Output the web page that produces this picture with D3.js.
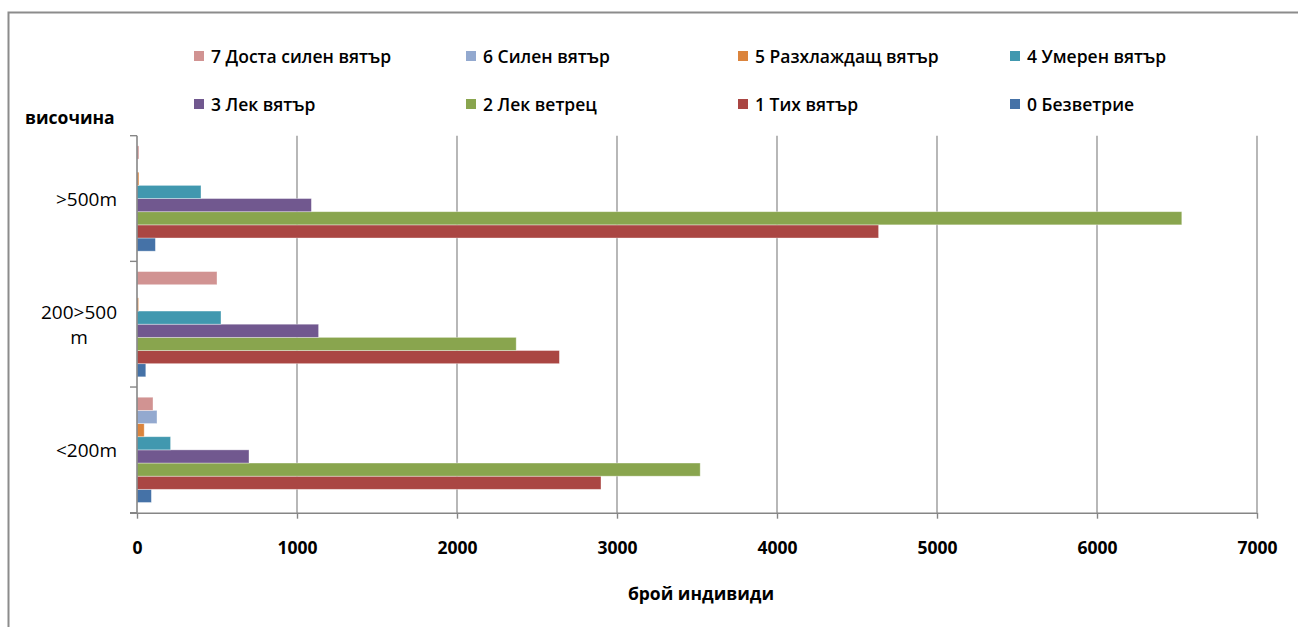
<!DOCTYPE html>
<html>
<head>
<meta charset="utf-8">
<script src="https://cdn.jsdelivr.net/npm/d3@7"></script>
<style>
  html, body { margin: 0; padding: 0; background: #fff; }
  svg { display: block; }
  text { font-family: "Open Sans", "Noto Sans", sans-serif; fill: #000; }
</style>
</head>
<body>
<svg id="chart" width="1298" height="627"></svg>
<script>
// Altitude classes, listed from the bottom of the chart upward
const categories = ["<200m", "200>500m", ">500m"];
const categoryLines = { "<200m": ["<200m"], "200>500m": ["200>500", "m"], ">500m": [">500m"] };

// Wind force classes (Beaufort), series 0 is drawn lowest in each group
const seriesNames = [
  "0 Безветрие", "1 Тих вятър", "2 Лек ветрец", "3 Лек вятър",
  "4 Умерен вятър", "5 Разхлаждащ вятър", "6 Силен вятър", "7 Доста силен вятър"
];

// Number of individuals per wind class, one array per altitude class
const valuesBelow200 = [90, 2900, 3520, 700, 210, 45, 125, 100];
const values200to500 = [55, 2640, 2370, 1135, 525, 10, 0, 500];
const valuesAbove500 = [115, 4635, 6530, 1090, 400, 12, 0, 12];

const xTicks = [0, 1000, 2000, 3000, 4000, 5000, 6000, 7000];
const yTitle = "височина";
const xTitle = "брой индивиди";

const colors = ["#4572A7", "#AA4643", "#89A54E", "#71588F", "#4198AF", "#DB843D", "#93A9CF", "#D19392"];

const table = {
  "<200m": valuesBelow200,
  "200>500m": values200to500,
  ">500m": valuesAbove500
};

const svg = d3.select("#chart");

// outer chart frame
svg.append("rect")
  .attr("x", 8.5).attr("y", 12.5)
  .attr("width", 1400).attr("height", 700)
  .attr("fill", "none").attr("stroke", "#8c8c8c").attr("stroke-width", 2);

const plot = { left: 137, right: 1257, top: 135.7, bottom: 512.7 };

const x = d3.scaleLinear().domain([0, 7000]).range([plot.left, plot.right]);
const y = d3.scaleBand().domain(categories.slice().reverse())
  .range([plot.top, plot.bottom]).paddingInner(0).paddingOuter(0);
const inner = d3.scaleBand().domain(d3.range(seriesNames.length).reverse())
  .range([0, y.bandwidth()]).paddingOuter(0.775).paddingInner(0);

// vertical gridlines
svg.append("g").selectAll("line")
  .data(xTicks.filter(d => d > 0))
  .join("line")
  .attr("x1", d => x(d)).attr("x2", d => x(d))
  .attr("y1", plot.top).attr("y2", plot.bottom)
  .attr("stroke", "#a6a6a6").attr("stroke-width", 1.6);

// bars
const groups = svg.append("g").selectAll("g")
  .data(categories)
  .join("g")
  .attr("transform", c => `translate(0,${y(c)})`);

groups.selectAll("rect")
  .data(c => table[c].map((v, i) => ({ v, i })))
  .join("rect")
  .attr("x", x(0))
  .attr("y", d => inner(d.i))
  .attr("width", d => x(d.v) - x(0))
  .attr("height", inner.bandwidth())
  .attr("fill", d => colors[d.i])
  .attr("stroke", d => d.v > 0 ? "rgba(255,255,255,0.45)" : "none")
  .attr("stroke-width", 0.8);

// x axis
const xAxis = svg.append("g")
  .attr("transform", `translate(0,${plot.bottom})`)
  .call(d3.axisBottom(x).tickValues(xTicks).tickSize(6).tickPadding(23).tickFormat(d3.format("d")));
xAxis.select(".domain").attr("stroke", "#868686").attr("stroke-width", 1.6)
  .attr("d", `M${plot.left - 7},0.5H${plot.right}`);
xAxis.selectAll(".tick line").attr("stroke", "#868686").attr("stroke-width", 1.4);
xAxis.selectAll(".tick text")
  .style("font-size", "17.5px").style("font-weight", "bold").attr("fill", "#000");

// y axis
const yAxis = svg.append("g")
  .attr("transform", `translate(${plot.left},0)`);
yAxis.append("line")
  .attr("x1", 0).attr("x2", 0).attr("y1", plot.top).attr("y2", plot.bottom)
  .attr("stroke", "#868686").attr("stroke-width", 1.6);
const bounds = categories.map(c => y(c)).concat([plot.bottom]);
yAxis.selectAll("line.tick")
  .data(bounds)
  .join("line").attr("class", "tick")
  .attr("x1", -7).attr("x2", 0)
  .attr("y1", d => d).attr("y2", d => d)
  .attr("stroke", "#868686").attr("stroke-width", 1.4);

// category labels: each block is right-aligned to the axis, wrapped lines centred within it
const labelRight = 117;
categories.forEach(c => {
  const lines = categoryLines[c];
  const cy = y(c) + y.bandwidth() / 2;
  const t = svg.append("text")
    .attr("text-anchor", "middle")
    .style("font-size", "19px");
  const spans = lines.map((ln, k) =>
    t.append("tspan")
      .attr("y", cy + (k - (lines.length - 1) / 2) * 25 + 7)
      .text(ln));
  const maxW = d3.max(spans, s => s.node().getComputedTextLength());
  spans.forEach(s => s.attr("x", labelRight - maxW / 2));
});

// axis titles
svg.append("text").attr("x", 25).attr("y", 124)
  .style("font-size", "17.5px").style("font-weight", "bold").text(yTitle);
svg.append("text").attr("x", 701).attr("y", 600).attr("text-anchor", "middle")
  .style("font-size", "17.5px").style("font-weight", "bold").text(xTitle);

// legend: two rows of four, highest wind class first
const legendOrder = [7, 6, 5, 4, 3, 2, 1, 0];
const legend = svg.append("g").selectAll("g")
  .data(legendOrder)
  .join("g")
  .attr("transform", (s, k) => `translate(${194 + (k % 4) * 272},${k < 4 ? 56 : 104})`);
legend.append("rect")
  .attr("x", 0).attr("y", -5).attr("width", 10).attr("height", 10)
  .attr("fill", s => colors[s]);
legend.append("text")
  .attr("x", 17).attr("y", 6.5)
  .style("font-size", "17.5px").style("font-weight", "600")
  .text(s => seriesNames[s]);
</script>
</body>
</html>
